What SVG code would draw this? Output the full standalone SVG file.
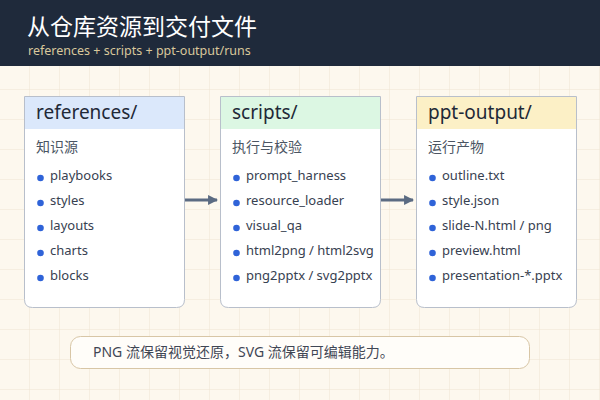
<svg xmlns="http://www.w3.org/2000/svg" width="600" height="400" viewBox="0 0 600 400">
<defs>
<pattern id="grid" width="30" height="30" patternUnits="userSpaceOnUse">
<path d="M30 0V30M0 30H30" fill="none" stroke="#efe4d2" stroke-width="1"/>
</pattern>
<marker id="arr" viewBox="0 0 10 10" refX="9" refY="5" markerWidth="3.3" markerHeight="3.3" orient="auto" markerUnits="strokeWidth">
<path d="M0 0L10 5L0 10z" fill="#5b6b82"/>
</marker>
<style>
text{font-family:"Noto Sans","Noto Sans CJK SC",sans-serif}
.card{fill:#ffffff;stroke:#b8bfcb;stroke-width:1}
.hd{font-size:19px;fill:#1f2937}
.sub{font-size:14px;fill:#4b5563}
.it{font-size:13px;fill:#374151}
.dot{fill:#2f63d8}
.conn{stroke:#5b6b82;stroke-width:3;fill:none}
</style>
</defs>
<rect width="600" height="400" fill="#fdf8ee"/>
<rect width="600" height="400" fill="url(#grid)"/>
<rect width="600" height="66" fill="#1f2a3b"/>
<text x="27" y="35" font-size="23" fill="#ffffff">从仓库资源到交付文件</text>
<text x="28" y="55" font-size="12.5" fill="#d9c89b">references + scripts + ppt-output/runs</text>

<g id="references">
<path class="card" d="M24.5 96.5H184.5V299.5Q184.5 307.5 176.5 307.5H32.5Q24.5 307.5 24.5 299.5Z"/>
<rect x="25" y="97" width="159" height="32" fill="#dbe8fb"/>
<text class="hd" x="36" y="119">references/</text>
<text class="sub" x="36" y="152">知识源</text>
<circle class="dot" cx="40.5" cy="178" r="3.3"/><text class="it" x="50" y="180">playbooks</text>
<circle class="dot" cx="40.5" cy="203" r="3.3"/><text class="it" x="50" y="205">styles</text>
<circle class="dot" cx="40.5" cy="228" r="3.3"/><text class="it" x="50" y="230">layouts</text>
<circle class="dot" cx="40.5" cy="253" r="3.3"/><text class="it" x="50" y="255">charts</text>
<circle class="dot" cx="40.5" cy="278" r="3.3"/><text class="it" x="50" y="280">blocks</text>
</g>

<g id="scripts">
<path class="card" d="M220.5 96.5H380.5V299.5Q380.5 307.5 372.5 307.5H228.5Q220.5 307.5 220.5 299.5Z"/>
<rect x="221" y="97" width="159" height="32" fill="#dcf7e3"/>
<text class="hd" x="232" y="119">scripts/</text>
<text class="sub" x="232" y="152">执行与校验</text>
<circle class="dot" cx="236.5" cy="178" r="3.3"/><text class="it" x="246" y="180">prompt_harness</text>
<circle class="dot" cx="236.5" cy="203" r="3.3"/><text class="it" x="246" y="205">resource_loader</text>
<circle class="dot" cx="236.5" cy="228" r="3.3"/><text class="it" x="246" y="230">visual_qa</text>
<circle class="dot" cx="236.5" cy="253" r="3.3"/><text class="it" x="246" y="255">html2png / html2svg</text>
<circle class="dot" cx="236.5" cy="278" r="3.3"/><text class="it" x="246" y="280">png2pptx / svg2pptx</text>
</g>

<g id="ppt-output">
<path class="card" d="M416.5 96.5H576.5V299.5Q576.5 307.5 568.5 307.5H424.5Q416.5 307.5 416.5 299.5Z"/>
<rect x="417" y="97" width="159" height="32" fill="#fcf0c6"/>
<text class="hd" x="428" y="119">ppt-output/</text>
<text class="sub" x="428" y="152">运行产物</text>
<circle class="dot" cx="432.5" cy="178" r="3.3"/><text class="it" x="442" y="180">outline.txt</text>
<circle class="dot" cx="432.5" cy="203" r="3.3"/><text class="it" x="442" y="205">style.json</text>
<circle class="dot" cx="432.5" cy="228" r="3.3"/><text class="it" x="442" y="230">slide-N.html / png</text>
<circle class="dot" cx="432.5" cy="253" r="3.3"/><text class="it" x="442" y="255">preview.html</text>
<circle class="dot" cx="432.5" cy="278" r="3.3"/><text class="it" x="442" y="280">presentation-*.pptx</text>
</g>

<g id="connectors">
<line class="conn" x1="185" y1="200" x2="217" y2="200" marker-end="url(#arr)"/>
<line class="conn" x1="381" y1="200" x2="413" y2="200" marker-end="url(#arr)"/>
</g>

<g id="note">
<rect x="70.5" y="336.5" width="459" height="32" rx="10" fill="#fffdf9" stroke="#d8c6a6"/>
<text x="93" y="357" font-size="14" fill="#3f4654">PNG 流保留视觉还原，SVG 流保留可编辑能力。</text>
</g>
</svg>
